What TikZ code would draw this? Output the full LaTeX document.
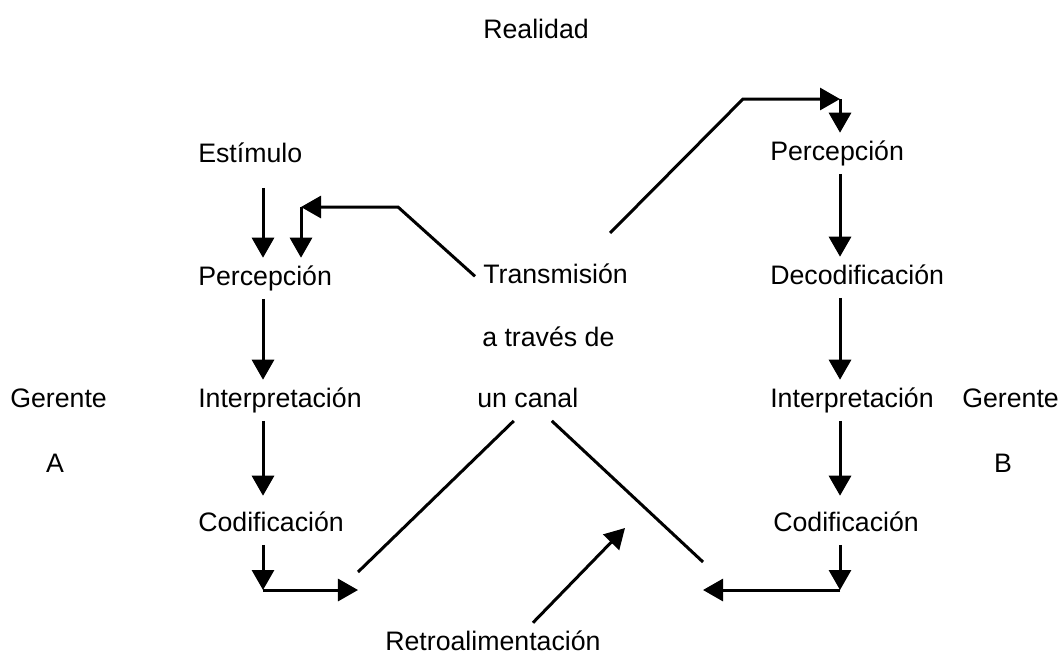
\documentclass[tikz,border=0pt]{standalone}
\usepackage{fontspec}
\setmainfont{Liberation Sans}
\usepackage{tikz}
\usetikzlibrary{arrows.meta}

\tikzset{
  lbl/.style={inner xsep=0.2cm, inner ysep=0.2cm, text height=0.475cm, text depth=0.14cm, anchor=base west},
  line/.style={line width=0.075cm},
  arr/.style={line width=0.075cm, -{Triangle[length=0.5cm,width=0.55cm]}}
}

\begin{document}
\begin{tikzpicture}[x=0.025cm, y=-0.025cm, font=\fontsize{19pt}{23pt}\selectfont]
\useasboundingbox (0,0) rectangle (1058,654);
% Top
\node[lbl] (real) at (475, 38) {Realidad};
% Gerente A
\node[lbl] (gerA) at (2, 407) {Gerente};
\node[lbl, anchor=base] (letA) at (55, 472) {A};
 \node[lbl] (estA) at (190, 162) {Estímulo};
 \node[lbl] (perA) at (190, 285) {Percepción};
 \node[lbl] (intA) at (190, 407) {Interpretación};
 \node[lbl] (codA) at (190, 531) {Codificación};
% Channel
\node[lbl] (trans) at (475, 283) {Transmisión};
\node[lbl] (trav) at (474, 346) {a través de};
\node[lbl] (canal) at (469, 407) {un canal};
\node[lbl] (retro) at (377, 650) {Retroalimentación};
% Gerente B
 \node[lbl] (perB) at (762, 160) {Percepción};
 \node[lbl] (decB) at (762, 284) {Decodificación};
 \node[lbl] (intB) at (762, 407) {Interpretación};
 \node[lbl] (codB) at (765, 531) {Codificación};
\node[lbl] (gerB) at (954, 407) {Gerente};
\node[lbl, anchor=base] (letB) at (1003, 472) {B};
 %
 % Corners and columns
\coordinate (colA) at (263, 0);
\coordinate (colB) at (840, 0);
\coordinate (kA1) at (398, 207);
\coordinate (kA2) at (301, 207);
\coordinate (kB1) at (743, 99);
\coordinate (kB2) at (840, 99);
\coordinate (cA) at (263, 590);
\coordinate (tA) at (358, 590);
\coordinate (cB) at (840, 590);
\coordinate (tB) at (703, 590);
\coordinate (fb) at (625, 528);
 %
 % Left column
 \draw[ arr, shorten <=0.3cm] (estA.south -| colA) -- (perA.north -| colA);
 \draw[ arr] (perA.south -| colA) -- (intA.north -| colA);
 \draw[ arr, shorten >=0.2cm] (intA.south -| colA) -- (codA.north -| colA);
 \draw[ arr] (codA.south -| colA) -- (cA);
 \draw[ arr] (cA) -- (tA);
 % Right column
 \draw[ arr] (perB.south -| colB) -- (decB.north -| colB);
 \draw[ arr] (decB.south -| colB) -- (intB.north -| colB);
 \draw[ arr, shorten >=0.2cm] (intB.south -| colB) -- (codB.north -| colB);
 \draw[ arr] (codB.south -| colB) -- (cB);
 \draw[ arr] (cB) -- (tB);
 % Transmission
 \draw[ arr] (trans.west) -- (kA1) -- (kA2);
 \draw[ arr] (kA2) -- (perA.north -| kA2);
 \draw[ arr, shorten <=0.8cm] ([xshift=0.8cm]trans.north) -- (kB1) -- (kB2);
 \draw[ arr] (kB2) -- (perB.north -| kB2);
 \draw[ line] ([xshift=-0.35cm]canal.south) -- ([yshift=0.45cm]tA);
 \draw[ line] ([xshift=0.6cm]canal.south) -- ([yshift=0.7cm]tB);
 % Feedback
 \draw[ arr] ([xshift=1cm]retro.north) -- (fb);
\end{tikzpicture}
\end{document}
